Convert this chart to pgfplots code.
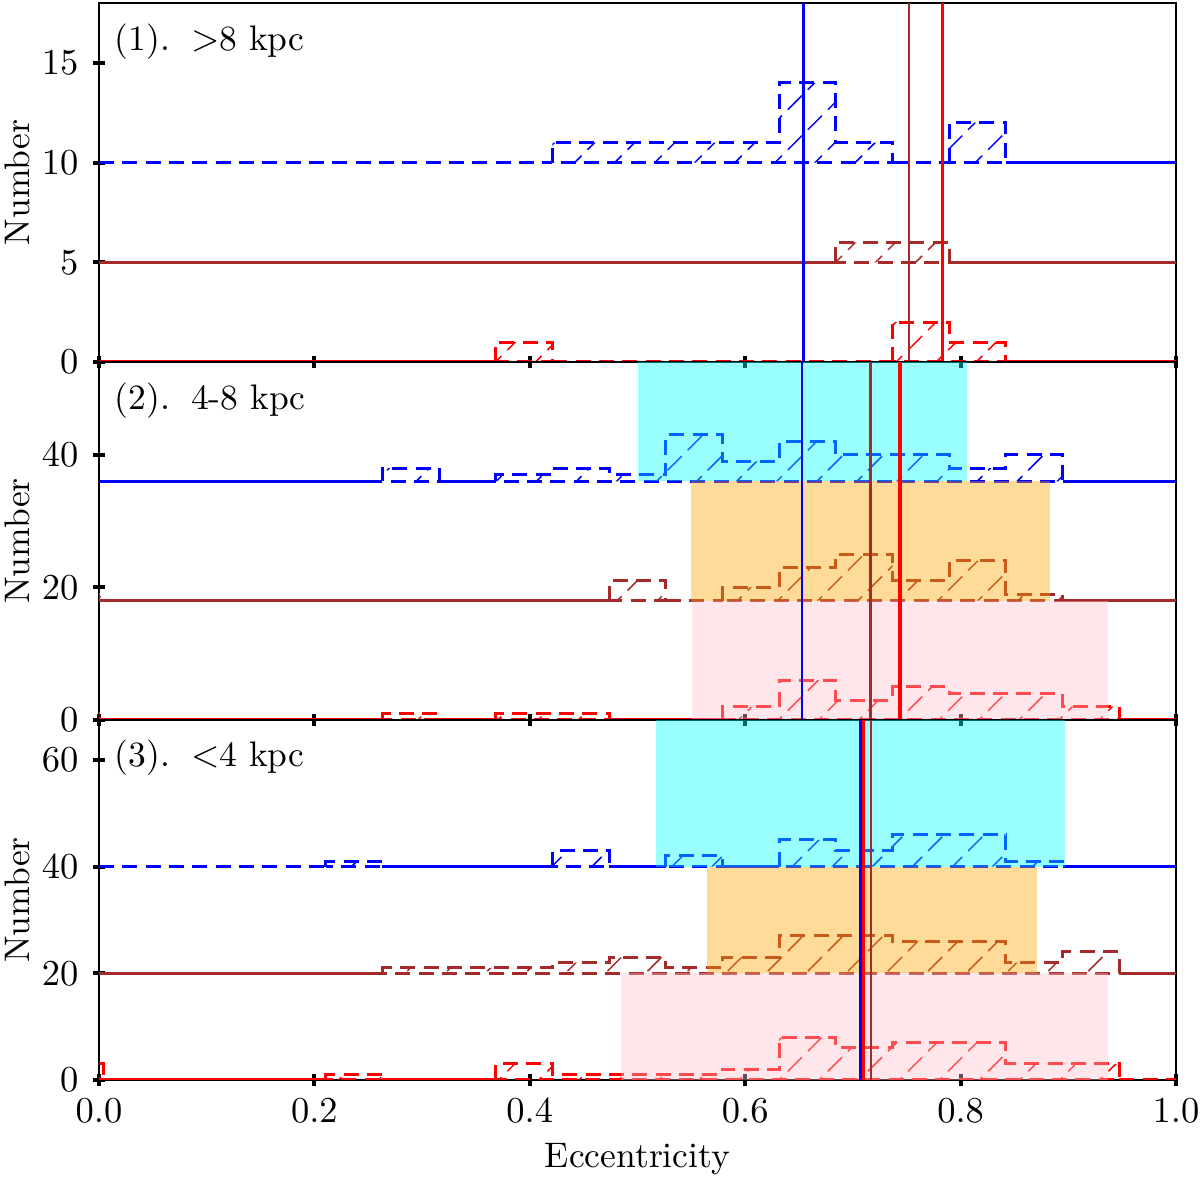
\documentclass[border=0pt]{standalone}
\usepackage{pgfplots}
\pgfplotsset{compat=1.18}
\usetikzlibrary{patterns.meta}
\definecolor{mbrown}{HTML}{A52A2A}
\definecolor{mcyan}{HTML}{00FFFF}
\definecolor{morange}{HTML}{FFA500}
\definecolor{mpink}{HTML}{FFC0CB}
\pgfplotsset{
  panel/.style={
    scale only axis, width=323.1pt,
    xmin=0, xmax=1, ymin=0,
    xtick={0,0.2,0.4,0.6,0.8,1},
    tick align=center, major tick length=3.7pt,
    every tick/.append style={black, line width=1.2pt},
    xtick pos=left, ytick pos=left,
    axis line style={black, line width=0.6pt},
    ylabel={Number},
    every axis y label/.style={at={(axis description cs:-0.0761,0.5)}, rotate=90, anchor=center},
    xticklabel style={/pgf/number format/.cd, fixed, fixed zerofill, precision=1},
    yticklabel style={xshift=-0.6pt},
  },
  hist/.style={const plot, line width=0.9pt, dash pattern=on 4.5pt off 2.5pt, draw=#1,
    pattern={Lines[angle=45,distance=8.5pt,line width=0.45pt]}, pattern color=#1},
  base/.style={line width=0.9pt, draw=#1},
  dbase/.style={line width=0.9pt, draw=#1, dash pattern=on 4.5pt off 2.5pt},
  vl/.style={draw=#1, line width=0.9pt},
}
\begin{document}
\fontsize{10.65}{12.8}\selectfont
\begin{tikzpicture}
\path[use as bounding box] (-29.7pt,-29.4pt) rectangle (330.3pt,324pt);
% ---------------- Panel 1 ----------------
\begin{axis}[panel, at={(0,215.4pt)}, anchor=south west, height=107.7pt,
  ymax=18, ytick={0,5,10,15}, xticklabels={}]
\addplot[dbase=blue] coordinates {(0,10) (0.42105,10)};
\addplot[hist=blue] coordinates {(0.42105,10) (0.42105,11) (0.63158,14) (0.68421,11) (0.73684,10)} -- cycle;
\addplot[dbase=blue] coordinates {(0.73684,10) (0.78947,10)};
\addplot[hist=blue] coordinates {(0.78947,10) (0.78947,12) (0.84211,10)} -- cycle;
\addplot[base=blue] coordinates {(0.84211,10) (1,10)};
\addplot[base=mbrown] coordinates {(0,5) (0.68421,5)};
\addplot[hist=mbrown] coordinates {(0.68421,5) (0.68421,6) (0.78947,5)} -- cycle;
\addplot[base=mbrown] coordinates {(0.78947,5) (1,5)};
\addplot[base=red] coordinates {(0,0) (0.36842,0)};
\addplot[hist=red] coordinates {(0.36842,0) (0.36842,1) (0.42105,0)} -- cycle;
\addplot[dbase=red] coordinates {(0.42105,0) (0.73684,0)};
\addplot[hist=red] coordinates {(0.73684,0) (0.73684,2) (0.78947,1) (0.84211,0)} -- cycle;
\addplot[base=red] coordinates {(0.84211,0) (1,0)};
\addplot[vl=blue] coordinates {(0.654,0) (0.654,18)};
\addplot[vl=mbrown, line width=0.8pt] coordinates {(0.752,0) (0.752,18)};
\addplot[vl=red] coordinates {(0.7833,0) (0.7833,18)};
\node[anchor=base west, inner sep=0pt] at (rel axis cs:0.0139,0.869) {(1).\hspace{0.6em}$>$8 kpc};
\end{axis}
% ---------------- Panel 2 ----------------
\begin{axis}[panel, at={(0,108pt)}, anchor=south west, height=107.4pt,
  ymax=54, ytick={0,20,40}, xticklabels={}]
\addplot[base=blue] coordinates {(0,36) (0.26316,36)};
\addplot[hist=blue] coordinates {(0.26316,36) (0.26316,38) (0.31579,36)} -- cycle;
\addplot[base=blue] coordinates {(0.31579,36) (0.36842,36)};
\addplot[hist=blue] coordinates {(0.36842,36) (0.36842,37) (0.42105,38) (0.47368,37) (0.52632,43) (0.57895,39) (0.63158,42) (0.68421,40) (0.78947,38) (0.84211,40) (0.89474,36)} -- cycle;
\addplot[base=blue] coordinates {(0.89474,36) (1,36)};
\addplot[hist=mbrown] coordinates {(-0.05,18) (-0.05,19) (0.004,18)} -- cycle;
\addplot[base=mbrown] coordinates {(0,18) (0.47368,18)};
\addplot[hist=mbrown] coordinates {(0.47368,18) (0.47368,21) (0.52632,18)} -- cycle;
\addplot[dbase=mbrown] coordinates {(0.52632,18) (0.57895,18)};
\addplot[hist=mbrown] coordinates {(0.57895,18) (0.57895,20) (0.63158,23) (0.68421,25) (0.73684,21) (0.78947,24) (0.84211,19) (0.89474,18)} -- cycle;
\addplot[base=mbrown] coordinates {(0.89474,18) (1,18)};
\addplot[hist=red] coordinates {(-0.05,0) (-0.05,1) (0.004,0)} -- cycle;
\addplot[base=red] coordinates {(0,0) (0.26316,0)};
\addplot[hist=red] coordinates {(0.26316,0) (0.26316,1) (0.31579,0)} -- cycle;
\addplot[base=red] coordinates {(0.31579,0) (0.36842,0)};
\addplot[hist=red] coordinates {(0.36842,0) (0.36842,1) (0.47368,0)} -- cycle;
\addplot[base=red] coordinates {(0.47368,0) (0.57895,0)};
\addplot[hist=red] coordinates {(0.57895,0) (0.57895,2) (0.63158,6) (0.68421,3) (0.73684,5) (0.78947,4) (0.89474,2) (0.94737,0)} -- cycle;
\addplot[base=red] coordinates {(0.94737,0) (1,0)};
\addplot[draw=none, fill=mcyan, fill opacity=0.4] coordinates {(0.5008,36) (0.8056,36) (0.8056,54) (0.5008,54)} -- cycle;
\addplot[draw=none, fill=morange, fill opacity=0.4] coordinates {(0.550,18) (0.883,18) (0.883,36) (0.550,36)} -- cycle;
\addplot[draw=none, fill=mpink, fill opacity=0.4] coordinates {(0.551,0) (0.937,0) (0.937,18) (0.551,18)} -- cycle;
\addplot[vl=blue, line width=0.6pt] coordinates {(0.6524,0) (0.6524,54)};
\addplot[vl=mbrown, line width=0.8pt] coordinates {(0.7164,0) (0.7164,54)};
\addplot[vl=red, line width=1.2pt] coordinates {(0.7437,0) (0.7437,54)};
\node[anchor=base west, inner sep=0pt] at (rel axis cs:0.0139,0.8687) {(2).\hspace{0.6em}4-8 kpc};
\end{axis}
% ---------------- Panel 3 ----------------
\begin{axis}[panel, at={(0,0)}, anchor=south west, height=108pt,
  ymax=67.5, ytick={0,20,40,60},
  xlabel={Eccentricity},
  every axis x label/.style={at={(axis description cs:0.5,0)}, anchor=north, inner sep=0pt, yshift=-18.9pt}]
\addplot[dbase=blue] coordinates {(0,40) (0.21053,40)};
\addplot[hist=blue] coordinates {(0.21053,40) (0.21053,41) (0.26316,40)} -- cycle;
\addplot[base=blue] coordinates {(0.26316,40) (0.42105,40)};
\addplot[hist=blue] coordinates {(0.42105,40) (0.42105,43) (0.47368,40)} -- cycle;
\addplot[base=blue] coordinates {(0.47368,40) (0.52632,40)};
\addplot[hist=blue] coordinates {(0.52632,40) (0.52632,42) (0.57895,40)} -- cycle;
\addplot[base=blue] coordinates {(0.57895,40) (0.63158,40)};
\addplot[hist=blue] coordinates {(0.63158,40) (0.63158,45) (0.68421,43) (0.73684,46) (0.84211,41) (0.89474,40)} -- cycle;
\addplot[base=blue] coordinates {(0.89474,40) (1,40)};
\addplot[base=mbrown] coordinates {(0,20) (0.26316,20)};
\addplot[hist=mbrown] coordinates {(0.26316,20) (0.26316,21) (0.42105,22) (0.47368,23) (0.52632,21) (0.57895,23) (0.63158,27) (0.73684,26) (0.84211,22) (0.89474,24) (0.94737,20)} -- cycle;
\addplot[base=mbrown] coordinates {(0.94737,20) (1,20)};
\addplot[hist=red] coordinates {(-0.05,0) (-0.05,3) (0.004,0)} -- cycle;
\addplot[base=red] coordinates {(0,0) (0.21053,0)};
\addplot[hist=red] coordinates {(0.21053,0) (0.21053,1) (0.26316,0)} -- cycle;
\addplot[base=red] coordinates {(0.26316,0) (0.36842,0)};
\addplot[hist=red] coordinates {(0.36842,0) (0.36842,3) (0.42105,1) (0.57895,2) (0.63158,8) (0.68421,6) (0.73684,7) (0.84211,3) (0.94737,0)} -- cycle;
\addplot[dbase=red] coordinates {(0.94737,0) (1,0)};
\addplot[draw=none, fill=mcyan, fill opacity=0.4] coordinates {(0.5172,40) (0.897,40) (0.897,67.5) (0.5172,67.5)} -- cycle;
\addplot[draw=none, fill=morange, fill opacity=0.4] coordinates {(0.5642,20) (0.8706,20) (0.8706,40) (0.5642,40)} -- cycle;
\addplot[draw=none, fill=mpink, fill opacity=0.4] coordinates {(0.4847,0) (0.937,0) (0.937,20) (0.4847,20)} -- cycle;
\addplot[vl=blue] coordinates {(0.7071,0) (0.7071,67.5)};
\addplot[vl=red] coordinates {(0.7103,0) (0.7103,67.5)};
\addplot[vl=mbrown, line width=0.7pt] coordinates {(0.7168,0) (0.7168,67.5)};
\node[anchor=base west, inner sep=0pt] at (rel axis cs:0.0139,0.8694) {(3).\hspace{0.6em}$<$4 kpc};
\end{axis}
\end{tikzpicture}
\end{document}
